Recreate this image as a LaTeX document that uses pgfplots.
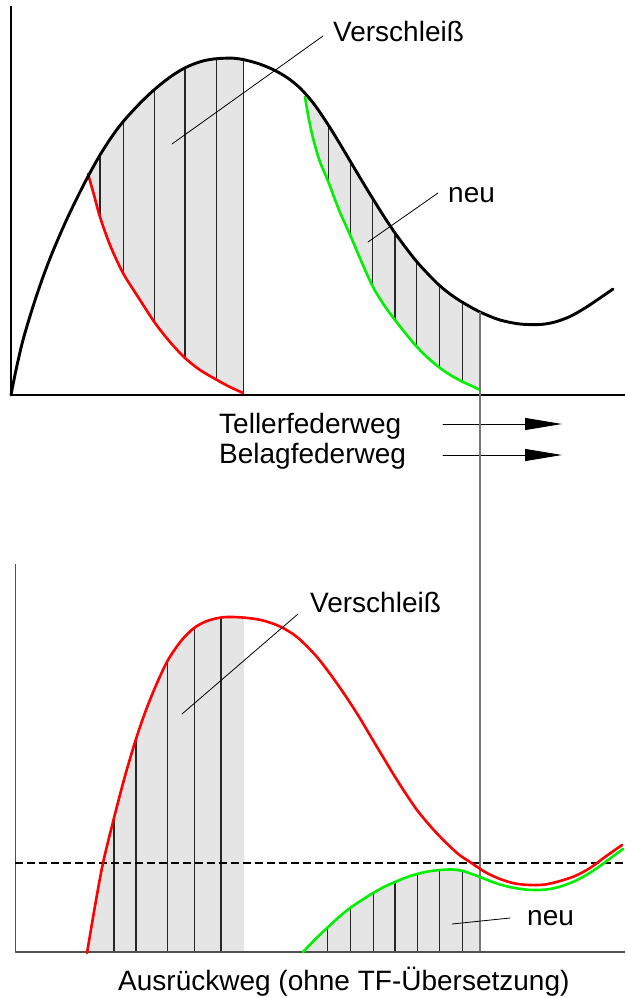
\documentclass[border=0pt]{standalone}
\usepackage{pgfplots}
\pgfplotsset{compat=1.18}
\usepackage{fontspec}
\setmainfont{Liberation Sans}
\usetikzlibrary{arrows.meta}

\definecolor{shade}{RGB}{229,229,229}
\definecolor{vline}{RGB}{120,120,120}
\definecolor{axgray}{RGB}{80,80,80}
\definecolor{cred}{RGB}{255,0,0}
\definecolor{cgreen}{RGB}{0,240,0}

\tikzset{
  hatch/.style={black!85, line width=1.1pt},
  lead/.style={black, line width=0.8pt},
  lbl/.style={anchor=base west, inner sep=0pt, font=\fontsize{28}{34}\selectfont},
}

\begin{document}
\begin{tikzpicture}
\begin{axis}[
  scale only axis, width=625pt, height=998pt,
  xmin=0, xmax=625, ymin=0, ymax=998, y dir=reverse,
  enlargelimits=false, hide axis, clip=false,
  every axis plot/.append style={line join=round, line cap=round},
]

% ---------- upper diagram: Tellerfeder- und Belagfederkennlinie ----------
% shaded areas
\addplot[fill=shade, draw=none] coordinates {
  (88,176.5) (100,155) (112,136.4) (123,121.8) (139,104.2) (154,89.9)
  (170,77.1) (185,67.8) (200,61.8) (212,59.2) (223,58.3) (233,58.2)
  (243,59.5) (243,393)
  (230,387) (217,380) (200,370) (185,358) (170,342) (155,323) (140,300)
  (123,273) (110,245) (100,217) (94,195) (88,174)};
\addplot[fill=shade, draw=none] coordinates {
  (305,93.7) (314,104) (328,124.5) (340,144) (351,162.5) (362,181)
  (373,199) (384,216.5) (395,233) (406,248) (417,262) (428,274) (439,285)
  (450,294) (462,302) (480,312) (480,390)
  (472,386) (463,382) (452,376) (440,368) (428,358) (417,347) (406,334)
  (395,320) (384,305) (373,287) (362,263) (351,237) (339,210) (328,181)
  (320,162) (314,142) (309,120) (305,97)};

% hatching
\addplot[hatch] coordinates {(100,157) (100,217)};
\addplot[hatch] coordinates {(123.3,122) (123.3,273)};
\addplot[hatch] coordinates {(154.3,90) (154.3,323)};
\addplot[hatch] coordinates {(185,68) (185,358)};
\addplot[hatch] coordinates {(216.7,59) (216.7,380)};
\addplot[hatch] coordinates {(243.3,59.5) (243.3,393)};
\addplot[hatch] coordinates {(328.3,125) (328.3,181)};
\addplot[hatch] coordinates {(350.7,162) (350.7,237)};
\addplot[hatch] coordinates {(372.7,199) (372.7,287)};
\addplot[hatch] coordinates {(395,233) (395,320)};
\addplot[hatch] coordinates {(416.7,262) (416.7,347)};
\addplot[hatch] coordinates {(439.3,285) (439.3,368)};
\addplot[hatch] coordinates {(462.3,302) (462.3,382)};

% axes
\addplot[black, line width=1.4pt, line cap=butt] coordinates {(11,6) (11,395) (625,395)};

% Belagfederkennlinie (Verschleiss, neu)
\addplot[cred, line width=2.6pt, smooth] coordinates {
  (88,174) (94,195) (100,217) (110,245) (123,273) (140,300) (155,323)
  (170,342) (185,358) (200,370) (217,380) (230,387) (243,393)};
\addplot[cgreen, line width=2.6pt, smooth] coordinates {
  (305,97) (309,120) (314,142) (320,162) (328,181) (339,210) (351,237)
  (362,263) (373,287) (384,305) (395,320) (406,334) (417,347) (428,358)
  (440,368) (452,376) (463,382) (472,386) (480,390)};

% Tellerfederkennlinie
\addplot[black, line width=2.9pt, smooth] coordinates {
  (11,395) (16,370) (23,340) (33,306.5) (43,277) (53,251) (66,221)
  (78,196) (88,176.5) (100,155) (112,136.4) (123,121.8) (139,104.2)
  (154,89.9) (170,77.1) (185,67.8) (200,61.8) (212,59.2) (223,58.3)
  (233,58.2) (243,59.5) (258,63.5) (273,69.5) (287,77.5) (300,88)
  (314,104) (328,124.5) (340,144) (351,162.5) (362,181) (373,199)
  (384,216.5) (395,233) (406,248) (417,262) (428,274) (439,285)
  (450,294) (462,302) (480,312) (500,320) (520,324) (540,324.5)
  (555,322) (570,316.5) (585,308) (600,298) (613,289)};

% labels
\addplot[lead] coordinates {(172,144) (323,36)};
\node[lbl] at (axis cs:333,42) {Verschleiß};
\addplot[lead] coordinates {(368,242) (438,193)};
\node[lbl] at (axis cs:448,202) {neu};

% ---------- direction arrows ----------
\node[lbl] at (axis cs:219,433) {Tellerfederweg};
\node[lbl] at (axis cs:219,463) {Belagfederweg};
\addplot[black, line width=1pt, -{Triangle[length=37pt,width=12pt]}] coordinates {(443,424) (562,424)};
\addplot[black, line width=1pt, -{Triangle[length=37pt,width=12pt]}] coordinates {(443,455) (562,455)};

% ---------- lower diagram: Ausruecklastkennlinie ----------
\addplot[fill=shade, draw=none] coordinates {
  (87,952) (95,906) (103,863) (114,818) (125,776) (136,739) (146,710)
  (157,683) (168,660) (181,641) (194,628) (207,621) (221,617.5) (233,617)
  (244,617.5) (244,952)};
\addplot[fill=shade, draw=none] coordinates {
  (303,952) (315,939.5) (327,928) (339,917) (350,908) (362,900) (373,893)
  (384,887) (395,882) (406,877.5) (417,874) (428,871.5) (440,870)
  (452,869.5) (463,871) (472,874) (480,877) (480,952)};

\addplot[hatch] coordinates {(114,818) (114,952)};
\addplot[hatch] coordinates {(136,739) (136,952)};
\addplot[hatch] coordinates {(167.7,660) (167.7,952)};
\addplot[hatch] coordinates {(194.3,628) (194.3,952)};
\addplot[hatch] coordinates {(221,617.5) (221,952)};
\addplot[hatch] coordinates {(327.7,928) (327.7,952)};
\addplot[hatch] coordinates {(350.7,908) (350.7,952)};
\addplot[hatch] coordinates {(373.3,893) (373.3,952)};
\addplot[hatch] coordinates {(395,882) (395,952)};
\addplot[hatch] coordinates {(417.3,874) (417.3,952)};
\addplot[hatch] coordinates {(439.3,870) (439.3,952)};
\addplot[hatch] coordinates {(462.3,870.5) (462.3,952)};

% reference line through both diagrams
\addplot[vline, line width=1.4pt, line cap=butt] coordinates {(480,312) (480,952)};

% axes
\addplot[axgray, line width=1.4pt, line cap=butt] coordinates {(15.5,564) (15.5,952) (625,952)};

% dashed level
\addplot[black, line width=2pt, line cap=butt, dash pattern=on 8pt off 4pt] coordinates {(15,863) (625,863)};

% Ausruecklast, Verschleiss
\addplot[cred, line width=2.6pt, smooth] coordinates {
  (87,953) (95,906) (103,863) (114,818) (125,776) (136,739) (146,710)
  (157,683) (168,660) (181,641) (194,628) (207,621) (221,617.5) (233,617)
  (248,618) (263,620.5) (280,626.5) (297,637) (317,657) (337,683.5)
  (357,713.5) (377,747) (397,780) (417,810) (437,833.5) (457,853)
  (470,862) (485,872) (500,879) (515,883.5) (530,885) (545,884.5)
  (560,881) (575,876) (590,868) (605,857) (622,845)};
% Ausruecklast, neu
\addplot[cgreen, line width=2.6pt, smooth] coordinates {
  (303,952) (315,939.5) (327,928) (339,917) (350,908) (362,900) (373,893)
  (384,887) (395,882) (406,877.5) (417,874) (428,871.5) (440,870)
  (452,869.5) (463,871) (472,874) (480,877) (490,881) (500,884.5)
  (512,887.5) (525,889.5) (538,890) (550,889) (562,886) (575,881)
  (588,874) (600,866) (612,857) (623,849)};

% labels
\addplot[lead] coordinates {(182,714) (298,614)};
\node[lbl] at (axis cs:310,612) {Verschleiß};
\addplot[lead] coordinates {(452,924) (510,918)};
\node[lbl] at (axis cs:527,925) {neu};
\node[lbl] at (axis cs:118,990) {Ausrückweg (ohne TF-Übersetzung)};
\end{axis}
\pgfresetboundingbox
\path (0,0) rectangle (625pt,998pt);
\end{tikzpicture}
\end{document}
